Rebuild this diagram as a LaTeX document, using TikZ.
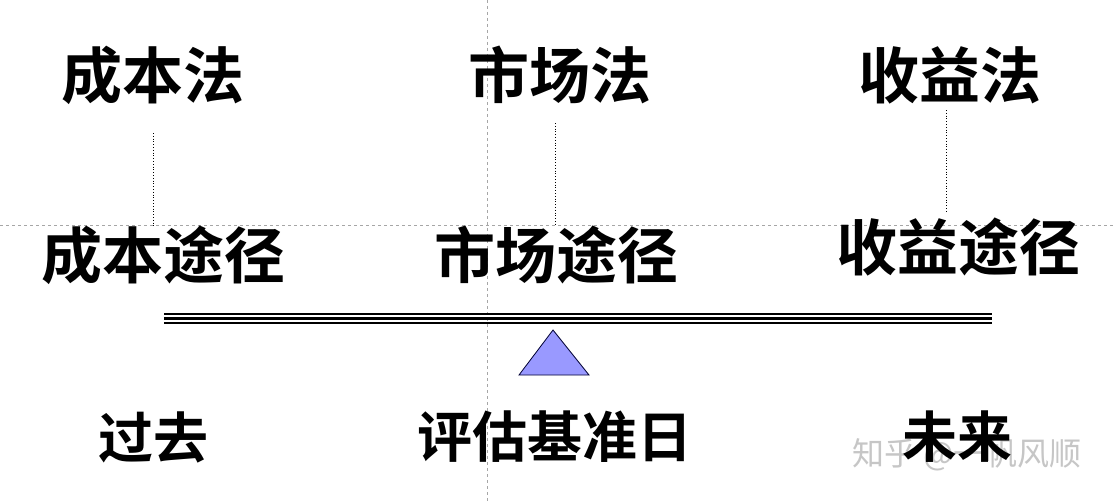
\documentclass[tikz,border=0pt]{standalone}
\usepackage{fontspec}
\newfontfamily\cjk{Noto Sans CJK SC}[BoldFont={Noto Sans CJK SC Bold}]
\begin{document}
\begin{tikzpicture}[x=1pt,y=-1pt,
  big/.style={font=\cjk\bfseries\fontsize{61}{64}\selectfont,inner sep=0pt},
  mid/.style={font=\cjk\bfseries\fontsize{55}{58}\selectfont,inner sep=0pt},
  guide/.style={gray!70,dashed,line width=0.6pt},
  link/.style={black,dotted,line width=0.8pt},
  beam/.style={black},
  fulcrum/.style={draw=black!80!blue,fill=blue!40!white,line width=0.8pt}]
\useasboundingbox (0,0) rectangle (1116,503);
\fill[white] (0,0) rectangle (1116,503);
% guides
\draw[guide] (487,0) coordinate (gt) -- (487,503) coordinate (gb);
\draw[guide] (0,225) coordinate (gl) -- (1116,225) coordinate (gr);
% watermark
\node[font=\cjk\fontsize{32}{34}\selectfont,text=gray!45,inner sep=0pt] (wm) at (967,455) {知乎 @一帆风顺};
% methods
\node[big] (m1) at (153,75) {成本法};
\node[big] (m2) at (560,75) {市场法};
\node[big] (m3) at (950,75) {收益法};
% approaches
\node[big] (a1) at (163,255) {成本途径};
\node[big] (a2) at (556,255) {市场途径};
\node[big] (a3) at (958,247) {收益途径};
% time
\node[mid] (t1) at (153,437) {过去};
\node[mid] (t2) at (555,437) {评估基准日};
\node[mid] (t3) at (957,437) {未来};
% links
\coordinate (l1a) at (153,133); \coordinate (l1b) at (153,228);
\coordinate (l2a) at (555,123); \coordinate (l2b) at (555,225);
\coordinate (l3a) at (946,110); \coordinate (l3b) at (946,213);
\draw[link] (l1a) -- (l1b);
\draw[link] (l2a) -- (l2b);
\draw[link] (l3a) -- (l3b);
% beam
\draw[beam,line width=2.2pt] (164,314) -- (992,314);
\draw[beam,line width=3.8pt] (164,318.5) -- (992,318.5);
\draw[beam,line width=2.2pt] (164,323) -- (992,323);
% fulcrum
\draw[fulcrum] (553,330) coordinate (apex) -- (589,375) -- (519,375) -- cycle;
\end{tikzpicture}
\end{document}
